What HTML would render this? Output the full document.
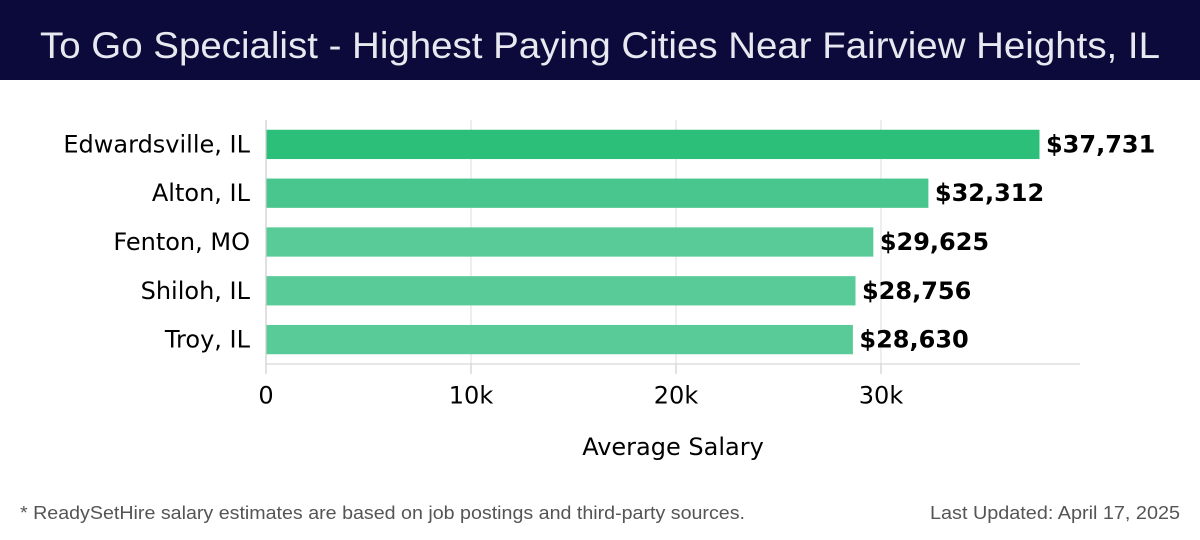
<!DOCTYPE html>
<html lang="en">
<head>
<meta charset="utf-8">
<title>To Go Specialist - Highest Paying Cities Near Fairview Heights, IL</title>
<style>
html,body{margin:0;padding:0;background:#fff;}
#wrap{position:relative;width:1200px;height:540px;overflow:hidden;background:#fff;}
svg{display:block;}
text{font-family:"DejaVu Sans",sans-serif;}
</style>
</head>
<body>
<div id="wrap">
<svg id="chart" width="1200" height="540" viewBox="0 0 1200 540" xmlns="http://www.w3.org/2000/svg">
  <rect x="0" y="0" width="1200" height="80" fill="#0b0a3a"/>
  <text x="600" y="58" text-anchor="middle" fill="#e8e8f0" font-size="37" textLength="1120" lengthAdjust="spacingAndGlyphs" style="font-family:'Liberation Sans',sans-serif;font-weight:300">To Go Specialist - Highest Paying Cities Near Fairview Heights, IL</text>
  <g id="grid"></g>
  <g id="bars"></g>
  <g id="axes"></g>
  <text x="673" y="455" text-anchor="middle" fill="#000" font-size="24">Average Salary</text>
  <text x="20" y="519" fill="#555" font-size="18" textLength="725" lengthAdjust="spacingAndGlyphs" style="font-family:'Liberation Sans',sans-serif">* ReadySetHire salary estimates are based on job postings and third-party sources.</text>
  <text x="1180" y="519" text-anchor="end" fill="#555" font-size="18" textLength="250" lengthAdjust="spacingAndGlyphs" style="font-family:'Liberation Sans',sans-serif">Last Updated: April 17, 2025</text>
</svg>
</div>
<script>
const categories = ["Edwardsville, IL", "Alton, IL", "Fenton, MO", "Shiloh, IL", "Troy, IL"];
const salaries = [37731, 32312, 29625, 28756, 28630];
const valueLabels = ["$37,731", "$32,312", "$29,625", "$28,756", "$28,630"];
const xTicks = [0, 10000, 20000, 30000];
const xTickLabels = ["0", "10k", "20k", "30k"];

const NS = "http://www.w3.org/2000/svg";
const plot = {left: 266, right: 1080, top: 120, bottom: 364};
const pxPer1k = 20.5;
function xScale(v) { return plot.left + v / 1000 * pxPer1k; }
const band = (plot.bottom - plot.top) / categories.length;
function yCenter(i) { return plot.top + band * (i + 0.5); }
const barH = band * 0.6;
function barFill(v) {
  const maxV = Math.max.apply(null, salaries);
  const minV = Math.min.apply(null, salaries);
  const t = maxV === minV ? 1 : (v - minV) / (maxV - minV);
  if (t > 0.8) return "#2bbf7a";
  if (t > 0.3) return "#49c68d";
  return "#59cb98";
}
function make(tag, attrs, parent, txt) {
  const el = document.createElementNS(NS, tag);
  for (const k in attrs) el.setAttribute(k, attrs[k]);
  if (txt !== undefined) el.textContent = txt;
  parent.appendChild(el);
  return el;
}
const gridG = document.getElementById("grid");
const barsG = document.getElementById("bars");
const axesG = document.getElementById("axes");

xTicks.forEach(function (t, i) {
  const x = xScale(t);
  const g = make("line", {x1: x, x2: x, y1: plot.top, y2: plot.bottom, stroke: "#e3e3e3", "stroke-width": 1.2}, gridG);
  
  
  const tk = make("line", {x1: x, x2: x, y1: plot.bottom, y2: plot.bottom + 10, stroke: "#cfcfcf", "stroke-width": 1.2}, axesG);
  
  
  const lb = make("text", {x: x, y: 403.5, "text-anchor": "middle", fill: "#000", "font-size": 24}, axesG, xTickLabels[i]);
  
  
});

const yAxis = make("line", {x1: plot.left, x2: plot.left, y1: plot.top, y2: plot.bottom, stroke: "#cfcfcf", "stroke-width": 1.2}, axesG);


const xAxis = make("line", {x1: plot.left, x2: plot.right, y1: plot.bottom, y2: plot.bottom, stroke: "#d6d6d6", "stroke-width": 1.2}, axesG);



categories.forEach(function (c, i) {
  const yc = yCenter(i);
  const w = xScale(salaries[i]) - xScale(0);
  const r = make("rect", {x: xScale(0) + 0.5, y: yc - barH / 2, width: w - 0.5, height: barH, fill: barFill(salaries[i])}, barsG);
  
  
  const cl = make("text", {x: 250, y: yc + 8, "text-anchor": "end", fill: "#000", "font-size": 24}, axesG, c);
  
  
  const vl = make("text", {x: xScale(salaries[i]) + 6.5, y: yc + 8, fill: "#000", "font-size": 24, "font-weight": "bold"}, axesG, valueLabels[i]);
  
  
});
</script>
</body>
</html>
